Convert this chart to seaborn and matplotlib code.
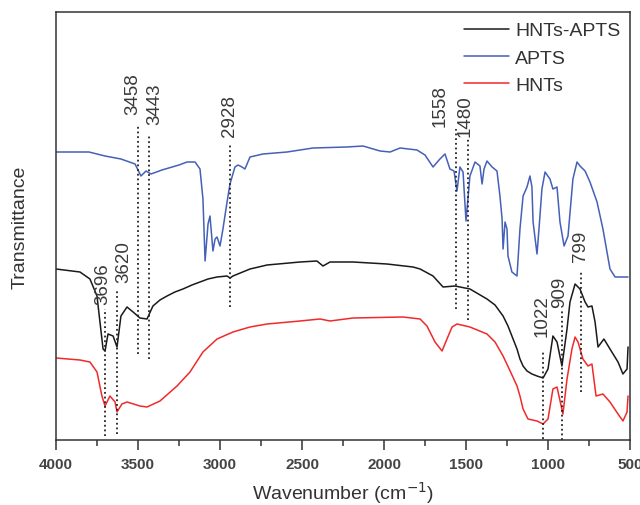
import numpy as np
import pandas as pd
import matplotlib
matplotlib.use("Agg")
import matplotlib.pyplot as plt
import seaborn as sns
from matplotlib.ticker import MultipleLocator

# ---------------- data (arbitrary transmittance units) ----------------
apts_wn = [4000, 3799, 3701, 3604, 3518, 3482, 3451, 3421, 3354, 3250, 3201, 3152, 3122, 3104,
           3091, 3073, 3061, 3043, 3030, 3018, 3000, 2982, 2957, 2939, 2909, 2890, 2866, 2848,
           2817, 2738, 2591, 2433, 2226, 2128, 2024, 1963, 1902, 1799, 1750, 1701, 1659, 1628,
           1598, 1573, 1555, 1537, 1518, 1500, 1476, 1445, 1415, 1402, 1390, 1372, 1341, 1311,
           1293, 1280, 1274, 1262, 1250, 1244, 1220, 1189, 1171, 1152, 1128, 1110, 1098, 1091,
           1067, 1055, 1037, 1018, 988, 970, 945, 927, 902, 878, 848, 823, 805, 774, 744, 701,
           665, 622, 591, 512]
apts_t = [288, 288, 284, 281, 276, 264, 269, 266, 270, 275, 278, 278, 271, 241,
          179, 216, 224, 189, 201, 203, 194, 211, 238, 256, 273, 275, 273, 271,
          283, 286, 288, 292, 293, 294, 289, 288, 292, 290, 285, 273, 281, 286,
          271, 269, 249, 273, 268, 219, 264, 278, 274, 256, 271, 279, 273, 269,
          244, 221, 191, 218, 211, 184, 168, 164, 211, 244, 253, 264, 253, 218,
          186, 211, 251, 268, 261, 251, 253, 218, 194, 204, 261, 278, 274, 269, 258, 238,
          211, 171, 163, 163]

hntsapts_wn = [4000, 3854, 3793, 3750, 3732, 3713, 3701, 3683, 3652, 3628, 3604, 3567, 3530,
               3488, 3445, 3409, 3366, 3323, 3275, 3226, 3171, 3122, 3073, 3018, 2957, 2939,
               2921, 2817, 2713, 2512, 2409, 2372, 2329, 2189, 1982, 1823, 1780, 1701, 1640,
               1567, 1476, 1372, 1323, 1274, 1244, 1213, 1189, 1171, 1152, 1128, 1098, 1067,
               1030, 1000, 970, 945, 915, 884, 866, 835, 805, 774, 756, 732, 713, 695, 659,
               622, 573, 543, 518, 512]
hntsapts_t = [171, 168, 161, 144, 118, 91, 89, 106, 104, 93, 124, 133, 128,
              122, 121, 134, 140, 144, 148, 151, 155, 158, 161, 163, 164, 162,
              164, 171, 175, 178, 179, 174, 178, 178, 176, 173, 171, 164, 153,
              154, 151, 141, 135, 124, 114, 101, 91, 81, 74, 69, 66, 64,
              62, 71, 104, 98, 74, 111, 138, 156, 151, 138, 133, 134, 118, 93, 101,
              91, 78, 66, 71, 93]

hnts_wn = [4000, 3854, 3793, 3750, 3720, 3701, 3671, 3640, 3628, 3598, 3567, 3488, 3445,
           3366, 3262, 3183, 3104, 3018, 2921, 2817, 2713, 2512, 2390, 2329, 2189, 1884,
           1780, 1738, 1689, 1646, 1616, 1585, 1555, 1476, 1372, 1323, 1274, 1231, 1189,
           1171, 1152, 1122, 1067, 1030, 1000, 970, 945, 933, 909, 884, 854, 835, 817, 787,
           756, 732, 707, 665, 622, 573, 543, 518, 512]
hnts_t = [82, 80, 78, 68, 44, 34, 44, 38, 28, 36, 38, 34, 33,
          39, 54, 68, 88, 101, 108, 113, 116, 119, 121, 119, 122, 123,
          121, 114, 98, 89, 101, 113, 116, 113, 106, 98, 84, 69, 54,
          44, 31, 21, 19, 16, 21, 51, 53, 44, 26, 61, 91, 103, 98, 81,
          74, 76, 44, 46, 38, 26, 19, 28, 44]

series_names = ["HNTs-APTS", "APTS", "HNTs"]
series_colors = ["#1a1a1a", "#4560b8", "#f02a2a"]

# peak annotations: label text, line position (cm-1), line top / bottom, label anchor
peak_labels = ["3696", "3620", "3458", "3443", "2928", "1558", "1480", "1022", "909", "799"]
peak_line_x = [3701, 3628, 3500, 3433, 2939, 1561, 1488, 1030, 915, 799]
peak_line_top = [131, 149, 316, 304, 295, 311, 303, 89, 131, 168]
peak_line_bot = [4, 6, 86, 81, 133, 131, 120, 1, 0, 48]
peak_text_x = [3712, 3585, 3530, 3396, 2945, 1659, 1506, 1037, 927, 799]
peak_text_y = [136, 158, 326, 316, 304, 314, 304, 104, 133, 179]

xticks = [4000, 3500, 3000, 2500, 2000, 1500, 1000, 500]

# ---------------- figure ----------------
sns.set_theme(style="ticks")
plt.rcParams["font.family"] = ["Liberation Sans", "DejaVu Sans"]

fig = plt.figure(figsize=(6.4, 5.06), dpi=100)
ax = fig.add_axes([56 / 640, 1 - 441 / 506, (630 - 56) / 640, (441 - 13) / 506])

frames = {
    "HNTs-APTS": pd.DataFrame({"wn": hntsapts_wn, "T": hntsapts_t}),
    "APTS": pd.DataFrame({"wn": apts_wn, "T": apts_t}),
    "HNTs": pd.DataFrame({"wn": hnts_wn, "T": hnts_t}),
}
for name, col in zip(series_names, series_colors):
    sns.lineplot(data=frames[name], x="wn", y="T", ax=ax, color=col, lw=1.1,
                 estimator=None, sort=False, label=name)

txt_col = "#3a3a3a"
for lab, lx, ltop, lbot, tx, ty in zip(peak_labels, peak_line_x, peak_line_top,
                                        peak_line_bot, peak_text_x, peak_text_y):
    ax.plot([lx, lx], [lbot, ltop], color="#222222", lw=1.3, linestyle=(0, (1, 1.6)))
    ax.text(tx, ty, lab, rotation=90, ha="center", va="bottom", fontsize=13.5, color=txt_col)

ax.set_xlim(4000, 500)
ax.set_ylim(0, 428)
ax.set_xticks(xticks)
ax.set_xticklabels([str(t) for t in xticks], fontsize=11, fontweight="bold", color="#444444")
ax.xaxis.set_minor_locator(MultipleLocator(250))
ax.tick_params(axis="x", which="major", direction="out", length=7, width=1.1, color="#333333", pad=5)
ax.tick_params(axis="x", which="minor", direction="out", length=4, width=1.1, color="#333333")
ax.set_yticks([])
for s in ax.spines.values():
    s.set_visible(True)
    s.set_color("#333333")
    s.set_linewidth(1.1)

ax.set_xlabel("Wavenumber (cm$^{-1}$)", fontsize=14, color="#333333", labelpad=6)
ax.set_ylabel("Transmittance", fontsize=14, color="#333333", labelpad=20)

leg = ax.legend(loc="upper right", bbox_to_anchor=(1.0, 1.0), frameon=False, fontsize=14,
                handlelength=2.3, handletextpad=0.3, labelspacing=0.5, borderaxespad=0.3,
                borderpad=0.2)
for t in leg.get_texts():
    t.set_color("#333333")

fig.savefig("out.png", dpi=100)
